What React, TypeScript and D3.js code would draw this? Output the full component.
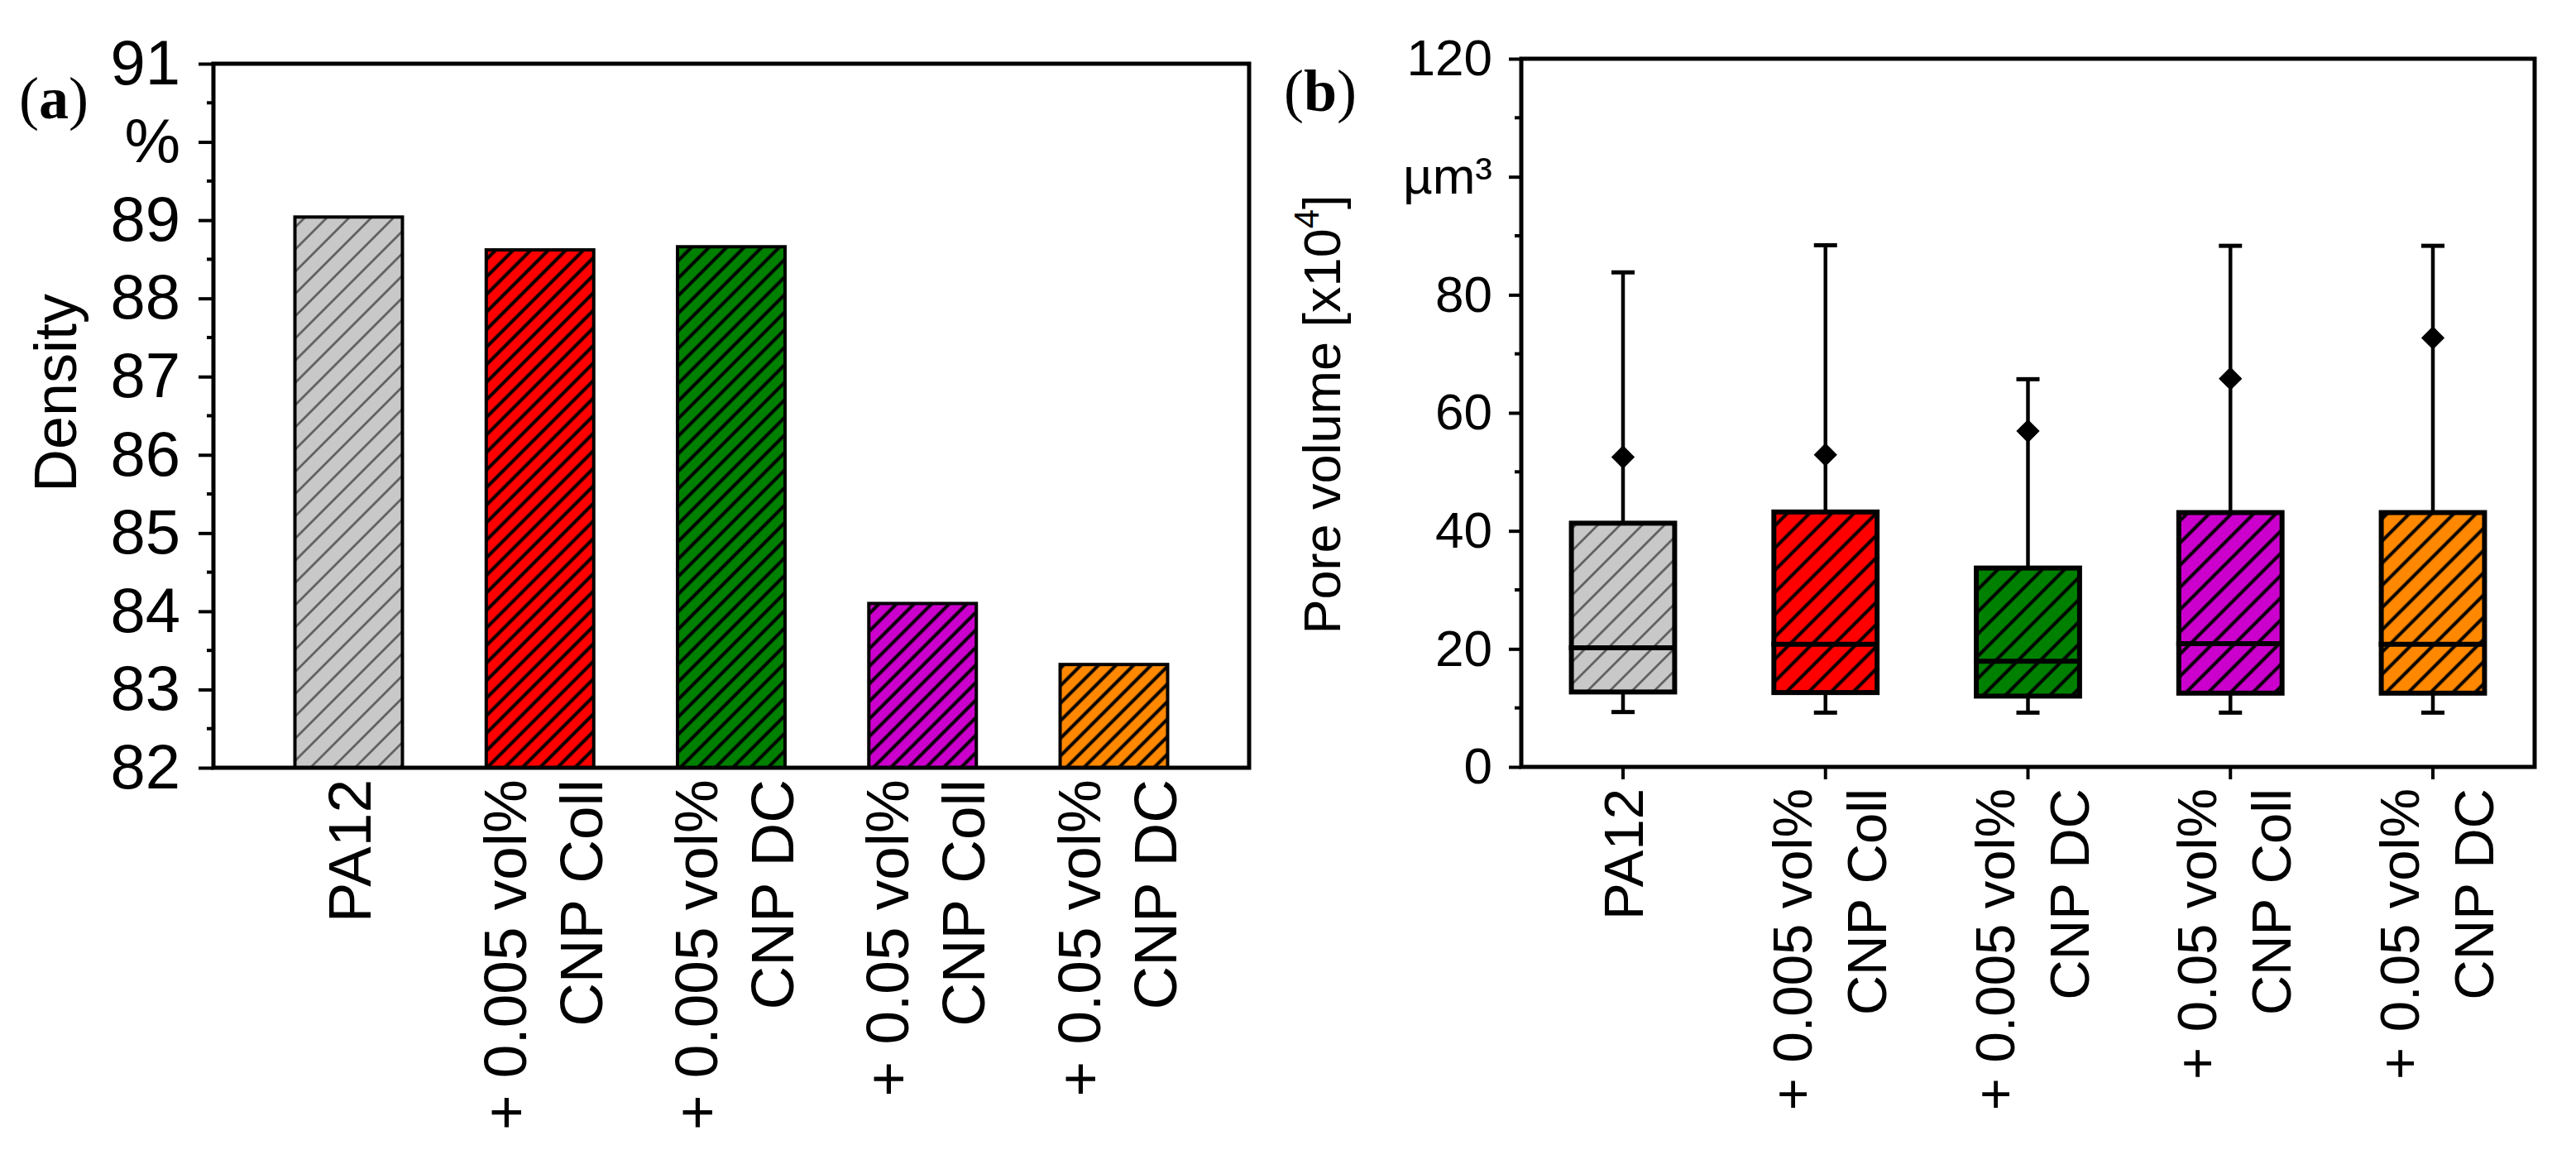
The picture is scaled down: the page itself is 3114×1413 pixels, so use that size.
import React, { useRef, useEffect } from "react";
import * as d3 from "d3";

// sample groups (two-line labels are split into lines)
const categories: string[][] = [
  ["PA12"],
  ["+ 0.005 vol%", "CNP Coll"],
  ["+ 0.005 vol%", "CNP DC"],
  ["+ 0.05 vol%", "CNP Coll"],
  ["+ 0.05 vol%", "CNP DC"],
];
const fillColors = ["#c8c8c8", "#ff0000", "#008000", "#cc00cc", "#ff8800"];
const hatchColors = ["#555555", "#000000", "#000000", "#000000", "#000000"];

// (a) density, %
const density = [89.04, 88.62, 88.66, 84.1, 83.32];
const densityTicks = [82, 83, 84, 85, 86, 87, 88, 89, 90, 91];
const densityTickLabels = ["82", "83", "84", "85", "86", "87", "88", "89", "%", "91"];
const densityMinor = [82.5, 83.5, 84.5, 85.5, 86.5, 87.5, 88.5, 89.5, 90.5];

// (b) pore volume box plots, µm³ x10^4
const whiskerLow = [9.3, 9.2, 9.2, 9.2, 9.2];
const q1 = [12.7, 12.6, 12.0, 12.5, 12.5];
const median = [20.2, 20.8, 17.9, 20.9, 20.8];
const q3 = [41.3, 43.2, 33.7, 43.1, 43.1];
const whiskerHigh = [83.8, 88.4, 65.7, 88.3, 88.3];
const mean = [52.5, 52.9, 56.9, 65.8, 72.7];
const poreTicks = [0, 20, 40, 60, 80, 100, 120];
const poreTickLabels = ["0", "20", "40", "60", "80", "µm³", "120"];
const poreMinor = [10, 30, 50, 70, 90, 110];

const W = 3114;
const H = 1413;
const SANS = "'Liberation Sans', Arial, sans-serif";
const SERIF = "'Liberation Serif', 'Times New Roman', serif";

export default function App() {
  const ref = useRef<SVGSVGElement>(null);

  useEffect(() => {
    if (!ref.current) return;
    const svg = d3.select(ref.current);
    svg.selectAll("*").remove();

    svg.append("rect").attr("width", W).attr("height", H).attr("fill", "#fff");

    const defs = svg.append("defs");
    const hatch = (id: string, fill: string, col: string, p: number, w: number) => {
      const pat = defs.append("pattern")
        .attr("id", id)
        .attr("patternUnits", "userSpaceOnUse")
        .attr("width", p)
        .attr("height", p)
        .attr("patternTransform", "rotate(45)");
      pat.append("rect").attr("width", p).attr("height", p).attr("fill", fill);
      pat.append("line")
        .attr("x1", p / 2).attr("x2", p / 2)
        .attr("y1", -1).attr("y2", p + 1)
        .attr("stroke", col)
        .attr("stroke-width", w);
    };
    fillColors.forEach((c, i) => {
      hatch(`ha${i}`, c, hatchColors[i], i === 0 ? 19 : 15, i === 0 ? 2.5 : 4);
      hatch(`hb${i}`, c, hatchColors[i], 19, i === 0 ? 2.5 : 4);
    });

    const idx = categories.map((_, i) => i);

    // ---------- panel (a) ----------
    const ax = d3.scaleBand<number>()
      .domain(idx)
      .range([258, 1510])
      .paddingInner(0.438)
      .paddingOuter(0.426);
    const ay = d3.scaleLinear().domain([82, 91]).range([928, 77]);

    const ga = svg.append("g");
    ga.selectAll("rect.bar")
      .data(idx)
      .enter()
      .append("rect")
      .attr("x", i => ax(i)!)
      .attr("width", ax.bandwidth())
      .attr("y", i => ay(density[i]))
      .attr("height", i => ay(82) - ay(density[i]))
      .attr("fill", i => `url(#ha${i})`)
      .attr("stroke", "#000")
      .attr("stroke-width", 4);

    const yAxisA = ga.append("g")
      .attr("transform", `translate(${ax.range()[0]},0)`)
      .call(
        d3.axisLeft(ay)
          .tickValues(densityTicks)
          .tickFormat((_, i) => densityTickLabels[i])
          .tickSize(18)
          .tickPadding(22)
          .tickSizeOuter(0)
      );
    yAxisA.select(".domain").remove();
    yAxisA.attr("font-size", 76).attr("font-family", SANS);
    yAxisA.selectAll("line").attr("stroke-width", 4);
    ga.selectAll("line.minor")
      .data(densityMinor)
      .enter()
      .append("line")
      .attr("x1", 250).attr("x2", 258)
      .attr("y1", d => ay(d)).attr("y2", d => ay(d))
      .attr("stroke", "#000").attr("stroke-width", 4);

    ga.append("rect")
      .attr("x", 258).attr("y", ay(91))
      .attr("width", 1510 - 258).attr("height", ay(82) - ay(91))
      .attr("fill", "none").attr("stroke", "#000").attr("stroke-width", 5);

    ga.append("text")
      .attr("transform", `translate(92,475) rotate(-90)`)
      .attr("text-anchor", "middle")
      .attr("font-family", SANS)
      .attr("font-size", 72)
      .text("Density");

    // ---------- panel (b) ----------
    const bx = d3.scaleBand<number>()
      .domain(idx)
      .range([1839, 3064])
      .paddingInner(0.49)
      .paddingOuter(0.2475);
    const by = d3.scaleLinear().domain([0, 120]).range([927, 71]);
    const cx = (i: number) => bx(i)! + bx.bandwidth() / 2;

    const gb = svg.append("g");
    const cap = 14;
    idx.forEach(i => {
      const c = cx(i);
      const g = gb.append("g");
      g.append("line")
        .attr("x1", c).attr("x2", c)
        .attr("y1", by(whiskerLow[i])).attr("y2", by(whiskerHigh[i]))
        .attr("stroke", "#000").attr("stroke-width", 4.5);
      [whiskerLow[i], whiskerHigh[i]].forEach(v => {
        g.append("line")
          .attr("x1", c - cap).attr("x2", c + cap)
          .attr("y1", by(v)).attr("y2", by(v))
          .attr("stroke", "#000").attr("stroke-width", 5);
      });
      g.append("rect")
        .attr("x", bx(i)!)
        .attr("width", bx.bandwidth())
        .attr("y", by(q3[i]))
        .attr("height", by(q1[i]) - by(q3[i]))
        .attr("fill", `url(#hb${i})`)
        .attr("stroke", "#000")
        .attr("stroke-width", 6);
      g.append("line")
        .attr("x1", bx(i)! - 3).attr("x2", bx(i)! + bx.bandwidth())
        .attr("y1", by(median[i])).attr("y2", by(median[i]))
        .attr("stroke", "#000").attr("stroke-width", 6);
      g.append("path")
        .attr("d", d3.symbol(d3.symbolSquare, 400)()!)
        .attr("transform", `translate(${c},${by(mean[i])}) rotate(45)`)
        .attr("fill", "#000");
    });

    const yAxisB = gb.append("g")
      .attr("transform", `translate(${bx.range()[0]},0)`)
      .call(
        d3.axisLeft(by)
          .tickValues(poreTicks)
          .tickFormat((_, i) => poreTickLabels[i])
          .tickSize(15)
          .tickPadding(20)
          .tickSizeOuter(0)
      );
    yAxisB.select(".domain").remove();
    yAxisB.attr("font-size", 62).attr("font-family", SANS);
    yAxisB.selectAll("line").attr("stroke-width", 4);
    gb.selectAll("line.minor")
      .data(poreMinor)
      .enter()
      .append("line")
      .attr("x1", 1831).attr("x2", 1839)
      .attr("y1", d => by(d)).attr("y2", d => by(d))
      .attr("stroke", "#000").attr("stroke-width", 4);

    const xAxisB = gb.append("g")
      .attr("transform", `translate(0,${by(0)})`)
      .call(d3.axisBottom(bx).tickSize(15).tickSizeOuter(0).tickFormat(() => ""));
    xAxisB.select(".domain").remove();
    xAxisB.selectAll("line").attr("stroke-width", 4);

    gb.append("rect")
      .attr("x", 1839).attr("y", by(120))
      .attr("width", 3064 - 1839).attr("height", by(0) - by(120))
      .attr("fill", "none").attr("stroke", "#000").attr("stroke-width", 5);

    const pl = gb.append("text")
      .attr("transform", `translate(1620,501) rotate(-90)`)
      .attr("text-anchor", "middle")
      .attr("font-family", SANS)
      .attr("font-size", 63);
    pl.append("tspan").text("Pore volume [x10");
    pl.append("tspan").attr("font-size", 42).attr("dy", -26).text("4");
    pl.append("tspan").attr("dy", 26).text("]");

    // ---------- rotated category labels ----------
    const catLabels = (
      g: d3.Selection<SVGGElement, unknown, null, undefined>,
      center: (i: number) => number,
      top: number,
      size: number,
      b1: number,
      b2: number
    ) => {
      idx.forEach(i => {
        const t = g.append("text")
          .attr("transform", `translate(${center(i)},${top}) rotate(-90)`)
          .attr("text-anchor", "end")
          .attr("font-family", SANS)
          .attr("font-size", size);
        const lines = categories[i];
        lines.forEach((ln, k) => {
          const off = lines.length === 1 ? size * 0.36 : k === 0 ? b1 : b2;
          t.append("tspan").attr("x", 0).attr("y", off).text(ln);
        });
      });
    };
    catLabels(ga as any, i => ax(i)! + ax.bandwidth() / 2, 942, 73, -17, 75);
    catLabels(gb as any, cx, 953, 67, -17, 73);

    // ---------- panel letters ----------
    const letter = (x: number, y: number, ch: string) => {
      const t = svg.append("text")
        .attr("x", x).attr("y", y)
        .attr("font-family", SERIF)
        .attr("font-size", 72);
      t.append("tspan").text("(");
      t.append("tspan").attr("font-weight", "bold").text(ch);
      t.append("tspan").text(")");
    };
    letter(23, 143, "a");
    letter(1552, 134, "b");
  }, []);

  return (
    <svg
      ref={ref}
      width={W}
      height={H}
      style={{ position: "absolute", left: 0, top: 0, display: "block" }}
    />
  );
}
